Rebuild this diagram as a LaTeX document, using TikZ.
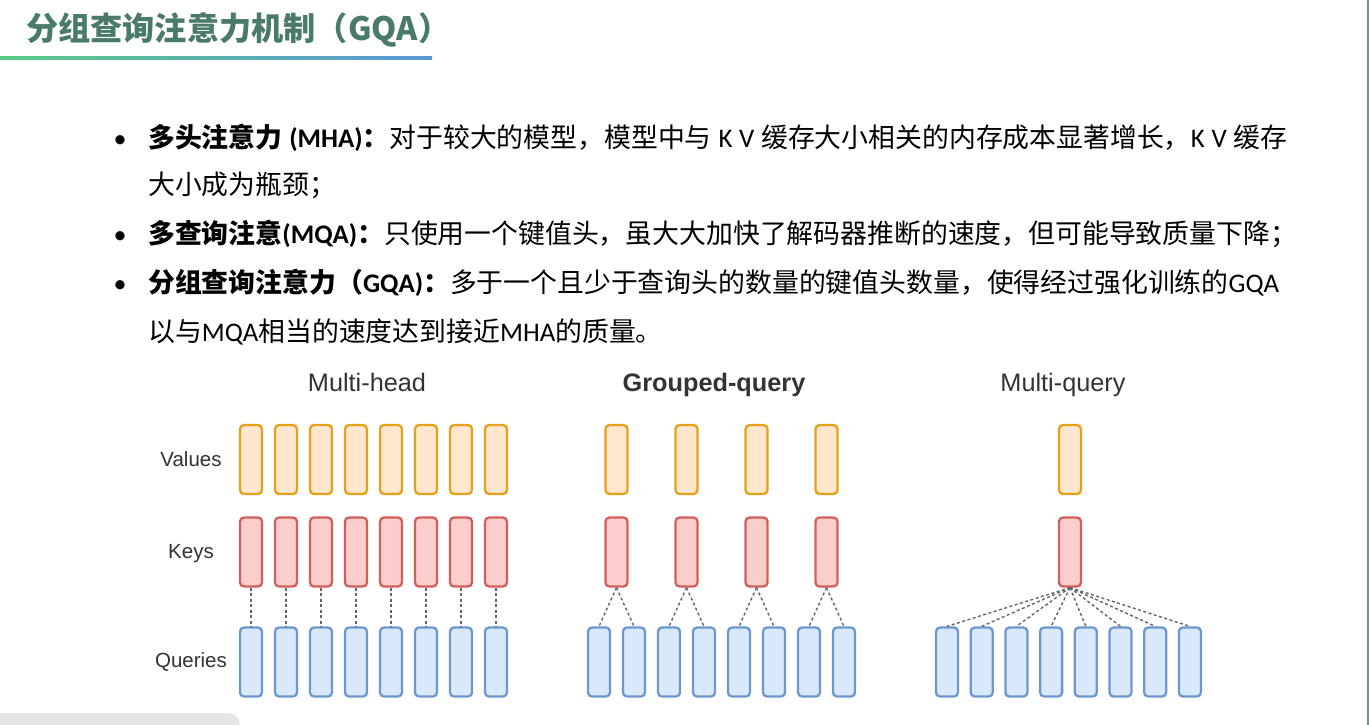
\documentclass[tikz,border=0pt]{standalone}
\usepackage{fontspec}
\setmainfont{Noto Sans CJK SC}
\newfontfamily\latfont{Carlito}
\newfontfamily\arialfont{Liberation Sans}
\usetikzlibrary{positioning}

\definecolor{titlegreen}{HTML}{4A7A6A}
\definecolor{barleft}{HTML}{5CCB86}
\definecolor{barright}{HTML}{5B96D6}
\definecolor{valfill}{HTML}{FFE6CC}
\definecolor{valdraw}{HTML}{E6A11A}
\definecolor{keyfill}{HTML}{F9CECC}
\definecolor{keydraw}{HTML}{D45E5A}
\definecolor{qryfill}{HTML}{DAE8FC}
\definecolor{qrydraw}{HTML}{6C98CF}
\definecolor{labgray}{HTML}{333333}

\tikzset{
  head/.style={draw, rounded corners=4pt, line width=2.3pt,
    minimum width=22pt, minimum height=69pt, inner sep=0pt},
  valbox/.style={head, fill=valfill, draw=valdraw},
  keybox/.style={head, fill=keyfill, draw=keydraw},
  qrybox/.style={head, fill=qryfill, draw=qrydraw},
  link/.style={draw=black!60, line width=1.4pt, dash pattern=on 3pt off 2.5pt},
  bodytxt/.style={anchor=base west, inner sep=0pt, font=\fontsize{26.85}{30}\selectfont},
  dot/.style={anchor=base, inner sep=0pt, font=\latfont\fontsize{26}{30}\selectfont},
  rowlab/.style={anchor=base, text=labgray, inner sep=0pt, font=\arialfont\fontsize{20.5}{24}\selectfont},
  collab/.style={anchor=base, text=labgray, inner sep=0pt, font=\arialfont\fontsize{25.3}{28}\selectfont}
}

\begin{document}
\begin{tikzpicture}[x=1pt, y=-1pt]
  \useasboundingbox (0,0) rectangle (1369,725);
  \fill[white] (0,0) rectangle (1369,725);

  % title and bar
  \node[anchor=west, inner sep=0pt, text=titlegreen,
        font=\fontsize{32.2}{34}\selectfont\bfseries] (title) at (26,30) {分组查询注意力机制（GQA）};
  \shade[left color=barleft, right color=barright] (0,56.5) rectangle (432,59.5);

  % bullets
  \node[dot] (b1) at (120,147) {•};
  \node[dot] (b2) at (120,243) {•};
  \node[dot] (b3) at (120,292) {•};

  \node[bodytxt] (l1) at (148,147) {\makebox[1139pt][s]{{\bfseries 多头注意力 {\latfont (MHA)}：}对于较大的模型，模型中与 {\latfont K V} 缓存大小相关的内存成本显著增长，{\latfont K V} 缓存}};
  \node[bodytxt] (l2) at (148,194) {大小成为瓶颈；};
  \node[bodytxt] (l3) at (148,243) {{\bfseries 多查询注意{\latfont (MQA)}：}只使用一个键值头，虽大大加快了解码器推断的速度，但可能导致质量下降；};
  \node[bodytxt] (l4) at (148,292) {{\bfseries 分组查询注意力（{\latfont GQA)}：}多于一个且少于查询头的数量的键值头数量，使得经过强化训练的{\latfont GQA}};
  \node[bodytxt] (l5) at (148,341) {以与{\latfont MQA}相当的速度达到接近{\latfont MHA}的质量。};

  % column and row labels
  \node[collab] (mhlab) at (367,391) {Multi-head};
  \node[collab, font=\arialfont\bfseries\fontsize{25.3}{28}\selectfont] (gqlab) at (714,391) {Grouped-query};
  \node[collab] (mqlab) at (1063,391) {Multi-query};
  \node[rowlab] (vlab) at (191,466) {Values};
  \node[rowlab] (klab) at (191,558.5) {Keys};
  \node[rowlab] (qlab) at (191,667.5) {Queries};

  % multi-head
  \foreach \i [evaluate=\i as \xc using 251+35*(\i-1)] in {1,...,8} {
    \node[valbox] (mhv\i) at (\xc,459.5) {};
    \node[keybox] (mhk\i) at (\xc,552) {};
    \node[qrybox] (mhq\i) at (\xc,662) {};
    \draw[link] (mhk\i.south) -- (mhq\i.north);
  }

  % grouped-query
  \foreach \i [evaluate=\i as \xc using 599+35*(\i-1)] in {1,...,8}
    \node[qrybox] (gqq\i) at (\xc,662) {};
  \foreach \j [evaluate=\j as \xc using 616.5+70*(\j-1),
               evaluate=\j as \qa using int(2*\j-1),
               evaluate=\j as \qb using int(2*\j)] in {1,...,4} {
    \node[valbox] (gqv\j) at (\xc,459.5) {};
    \node[keybox] (gqk\j) at (\xc,552) {};
    \draw[link] (gqk\j.south) -- (gqq\qa.north);
    \draw[link] (gqk\j.south) -- (gqq\qb.north);
  }

  % multi-query
  \node[valbox] (mqv) at (1070,459.5) {};
  \node[keybox] (mqk) at (1070,552) {};
  \foreach \i [evaluate=\i as \xc using 947+34.7*(\i-1)] in {1,...,8} {
    \node[qrybox] (mqq\i) at (\xc,662) {};
    \draw[link] (mqk.south) -- (mqq\i.north);
  }

  % frame bits
  \fill[black!10, rounded corners=12pt] (-20,713) rectangle (240,750);
  \draw[titlegreen!80, line width=1.5pt] (1368.2,0) -- (1368.2,725);
\end{tikzpicture}
\end{document}
